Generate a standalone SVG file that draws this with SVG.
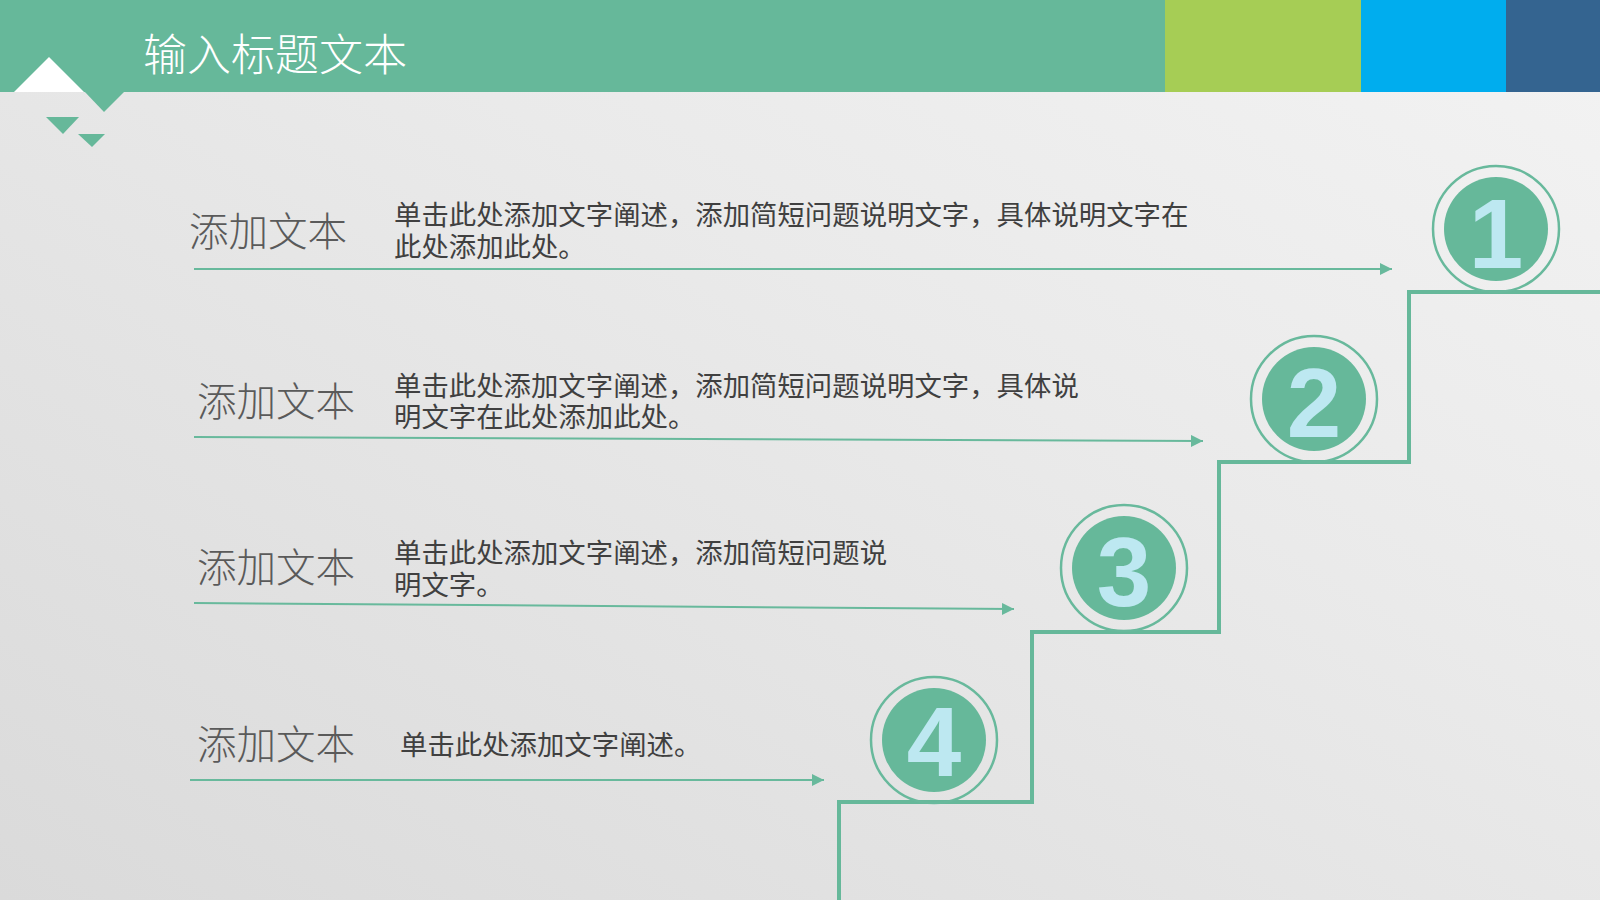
<svg xmlns="http://www.w3.org/2000/svg" width="1600" height="900" viewBox="0 0 1600 900">
<defs>
<linearGradient id="bg" x1="0" y1="1" x2="1" y2="0">
<stop offset="0" stop-color="#DADADA"/>
<stop offset="0.6" stop-color="#EAEAEA"/>
<stop offset="1" stop-color="#F3F3F3"/>
</linearGradient>
<marker id="arr" viewBox="0 0 12 12" refX="12" refY="6" markerWidth="12" markerHeight="12" markerUnits="userSpaceOnUse" orient="auto">
<path d="M0,0 L12,6 L0,12 Z" fill="#68B99C"/>
</marker>
</defs>
<style>
.lbl{font-family:"Noto Sans CJK SC",sans-serif;font-weight:300;font-size:39.5px;fill:#5A5A5A}
.desc{font-family:"Noto Sans CJK SC",sans-serif;font-size:27.4px;fill:#404040}
.ring{fill:none;stroke:#68B99C;stroke-width:2.5}
.disc{fill:#66B89A}
.num{font-family:"Liberation Sans",Arial,sans-serif;font-weight:bold;font-size:98px;fill:#BDE8F1;text-anchor:middle}
.conn{fill:none;stroke:#68B99C;stroke-width:2}
</style>
<rect width="1600" height="900" fill="url(#bg)"/>
<g id="header">
<rect x="0" y="0" width="1166" height="92" fill="#66B89A"/>
<rect x="1165" y="0" width="197" height="92" fill="#A6CD55"/>
<rect x="1361" y="0" width="146" height="92" fill="#00ADEE"/>
<rect x="1506" y="0" width="94" height="92" fill="#346490"/>
<polygon points="14,92 49,57 84,92" fill="#FFFFFF"/>
<polygon points="84,91 104,112 125,91" fill="#66B89A"/>
<polygon points="46,117 79,117 63,134" fill="#66B89A"/>
<polygon points="78,134 105,134 92,147" fill="#66B89A"/>
<text x="143" y="71" font-family="'Noto Sans CJK SC',sans-serif" font-weight="300" font-size="44" fill="#FFFFFF">输入标题文本</text>
</g>
<g id="connectors">
<line class="conn" x1="194" y1="269" x2="1392" y2="269" marker-end="url(#arr)"/>
<line class="conn" x1="194" y1="437" x2="1203" y2="441" marker-end="url(#arr)"/>
<line class="conn" x1="194" y1="603" x2="1014" y2="609" marker-end="url(#arr)"/>
<line class="conn" x1="190" y1="780" x2="824" y2="780" marker-end="url(#arr)"/>
<path d="M1600,292 H1409 V462 H1219 V632 H1032 V802 H839 V900" fill="none" stroke="#66B89A" stroke-width="4"/>
</g>
<g id="item1">
<text class="lbl" x="189" y="246">添加文本</text>
<text class="desc" x="394" y="225">单击此处添加文字阐述，添加简短问题说明文字，具体说明文字在</text>
<text class="desc" x="394" y="257">此处添加此处。</text>
</g>
<g id="item2">
<text class="lbl" x="197" y="416">添加文本</text>
<text class="desc" x="394" y="396">单击此处添加文字阐述，添加简短问题说明文字，具体说</text>
<text class="desc" x="394" y="427">明文字在此处添加此处。</text>
</g>
<g id="item3">
<text class="lbl" x="197" y="582">添加文本</text>
<text class="desc" x="394" y="563">单击此处添加文字阐述，添加简短问题说</text>
<text class="desc" x="394" y="595">明文字。</text>
</g>
<g id="item4">
<text class="lbl" x="197" y="759">添加文本</text>
<text class="desc" x="400" y="755">单击此处添加文字阐述。</text>
</g>
<g id="circle1">
<circle class="ring" cx="1496" cy="229" r="63"/>
<circle class="disc" cx="1496" cy="229" r="52"/>
<text class="num" x="1496" y="268">1</text>
</g>
<g id="circle2">
<circle class="ring" cx="1314" cy="399" r="63"/>
<circle class="disc" cx="1314" cy="399" r="52"/>
<text class="num" x="1314" y="437">2</text>
</g>
<g id="circle3">
<circle class="ring" cx="1124" cy="568" r="63"/>
<circle class="disc" cx="1124" cy="568" r="52"/>
<text class="num" x="1124" y="606">3</text>
</g>
<g id="circle4">
<circle class="ring" cx="934" cy="740" r="63"/>
<circle class="disc" cx="934" cy="740" r="52"/>
<text class="num" x="934" y="776">4</text>
</g>
</svg>
